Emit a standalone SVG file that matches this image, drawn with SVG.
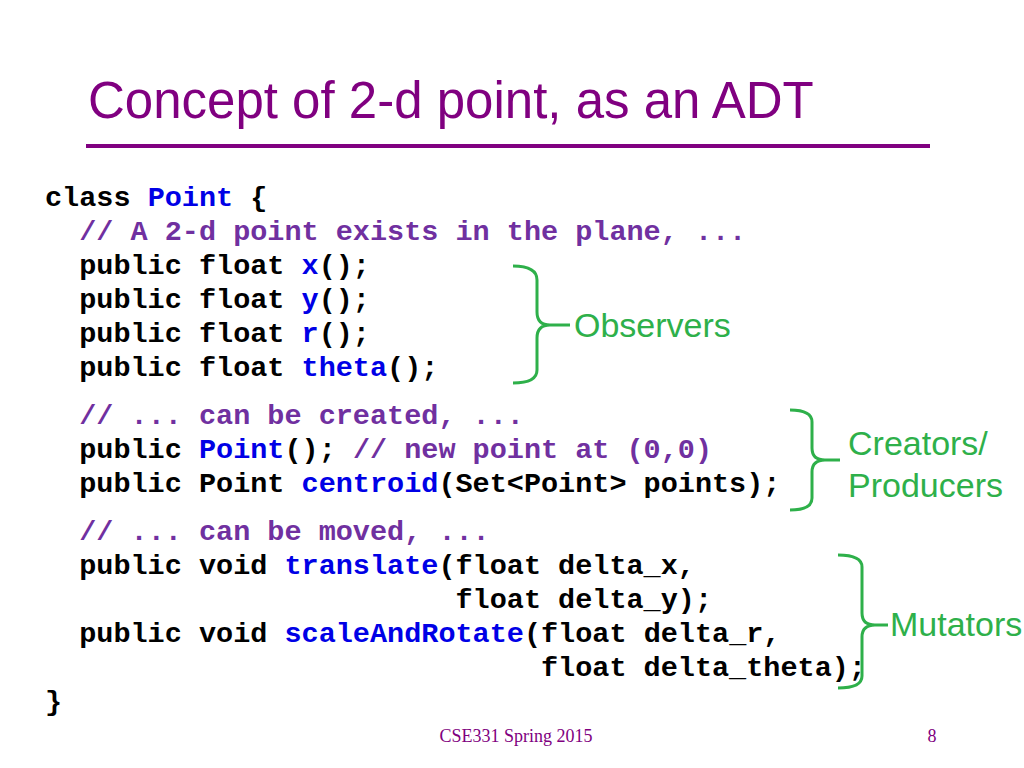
<svg xmlns="http://www.w3.org/2000/svg" width="1024" height="768" viewBox="0 0 1024 768">
<style>
.c{font-family:"Liberation Mono",monospace;font-weight:bold;font-size:28.5px;fill:#000;white-space:pre}
.b{fill:#0000e6}.p{fill:#7030a0}
.g{fill:none;stroke:#2eb04a;stroke-width:3}
.gl{font-family:"Liberation Sans",Arial,sans-serif;font-size:34px;fill:#2eb04a}
.f{font-family:"Liberation Serif",serif;font-size:18px;fill:#800080}
</style>
<rect width="1024" height="768" fill="#fff"/>
<text x="88" y="118" font-family="Liberation Sans,Arial,sans-serif" font-size="51" fill="#800080">Concept of 2-d point, as an ADT</text>
<rect x="86" y="144" width="844" height="4" fill="#800080"/>
<g id="code" xml:space="preserve">
<text class="c" x="45" y="206">class <tspan class="b">Point</tspan> {</text>
<text class="c" x="45" y="240">  <tspan class="p">// A 2-d point exists in the plane, ...</tspan></text>
<text class="c" x="45" y="274">  public float <tspan class="b">x</tspan>();</text>
<text class="c" x="45" y="308">  public float <tspan class="b">y</tspan>();</text>
<text class="c" x="45" y="342">  public float <tspan class="b">r</tspan>();</text>
<text class="c" x="45" y="376">  public float <tspan class="b">theta</tspan>();</text>
<text class="c" x="45" y="424">  <tspan class="p">// ... can be created, ...</tspan></text>
<text class="c" x="45" y="458">  public <tspan class="b">Point</tspan>(); <tspan class="p">// new point at (0,0)</tspan></text>
<text class="c" x="45" y="492">  public Point <tspan class="b">centroid</tspan>(Set&lt;Point&gt; points);</text>
<text class="c" x="45" y="540">  <tspan class="p">// ... can be moved, ...</tspan></text>
<text class="c" x="45" y="574">  public void <tspan class="b">translate</tspan>(float delta_x,</text>
<text class="c" x="45" y="608">                        float delta_y);</text>
<text class="c" x="45" y="642">  public void <tspan class="b">scaleAndRotate</tspan>(float delta_r,</text>
<text class="c" x="45" y="676">                             float delta_theta);</text>
<text class="c" x="45" y="710">}</text>
</g>
<g id="observers">
<path class="g" d="M513 266 Q537 266 537 280 V312 Q537 325 550 325 H570 M550 325 Q537 325 537 338 V370 Q537 383 513 383"/>
<text class="gl" x="574" y="337">Observers</text>
</g>
<g id="creators">
<path class="g" d="M790 410 Q812 410 812 422 V448 Q812 460 825 460 H840 M825 460 Q812 460 812 472 V498 Q812 510 790 510"/>
<text class="gl" x="848" y="455">Creators/</text>
<text class="gl" x="848" y="497">Producers</text>
</g>
<g id="mutators">
<path class="g" d="M838 555 Q862 555 862 567 V613 Q862 625 875 625 H888 M875 625 Q862 625 862 637 V676 Q862 688 838 688"/>
<text class="gl" x="890" y="636">Mutators</text>
</g>
<text class="f" x="516" y="742" text-anchor="middle">CSE331 Spring 2015</text>
<text class="f" x="932" y="742" text-anchor="middle">8</text>
</svg>
